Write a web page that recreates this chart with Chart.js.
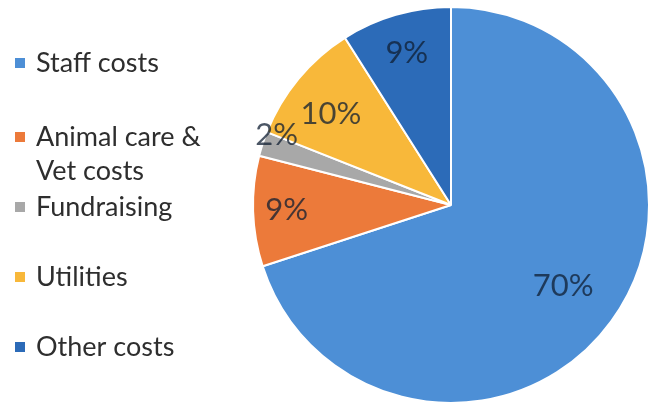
<!DOCTYPE html>
<html>
<head>
<meta charset="utf-8">
<script src="https://cdn.jsdelivr.net/npm/chart.js@4/dist/chart.umd.min.js"></script>
<style>
    html, body { margin: 0; padding: 0; background: #fff; }
    #wrap { position: relative; width: 652px; height: 406px; }
</style>
</head>
<body>
<div id="wrap"><canvas id="grafico"></canvas></div>
<script>
// Datos del gráfico
const categorias = ["Staff costs", ["Animal care &", "Vet costs"], "Fundraising", "Utilities", "Other costs"];
const porcentajes = [70, 9, 2, 10, 9];
const colores = ["#4d8fd6", "#ec7a3a", "#a8a8a8", "#f8b83a", "#2c6bb8"];

// Posición de las etiquetas (fracción del radio, desvío en grados) y filas de la leyenda
const radioEtiqueta = [0.70, 0.83, 0.95, 0.76, 0.80];
const desvioEtiqueta = [0, 0, 4, -2.5, 0];
const filasLeyenda = [63, 137, 207, 277, 347];

// Plugin: etiquetas de porcentaje sobre cada porción
const pluginEtiquetas = {
    id: "etiquetas",
    afterDatasetsDraw(chart) {
        const ctx = chart.ctx;
        const meta = chart.getDatasetMeta(0);
        ctx.save();
        ctx.font = "31px Lato";
        ctx.fillStyle = "rgba(15, 30, 50, 0.75)";
        ctx.textAlign = "center";
        ctx.textBaseline = "middle";
        meta.data.forEach((arc, i) => {
            const p = arc.getProps(["x", "y", "startAngle", "endAngle", "outerRadius"], true);
            const ang = (p.startAngle + p.endAngle) / 2 + desvioEtiqueta[i] * Math.PI / 180;
            const r = p.outerRadius * radioEtiqueta[i];
            ctx.fillText(porcentajes[i] + "%", p.x + Math.cos(ang) * r, p.y + Math.sin(ang) * r);
        });
        ctx.restore();
    }
};

// Plugin: leyenda a la izquierda (como en Excel)
const pluginLeyenda = {
    id: "leyenda",
    afterDraw(chart) {
        const ctx = chart.ctx;
        ctx.save();
        ctx.font = "27px Lato";
        ctx.textBaseline = "middle";
        chart.data.labels.forEach((label, i) => {
            const y = filasLeyenda[i];
            ctx.fillStyle = colores[i];
            ctx.fillRect(15, y - 5, 10, 10);
            ctx.fillStyle = "#2e2e2e";
            const lineas = Array.isArray(label) ? label : [label];
            lineas.forEach((linea, j) => ctx.fillText(linea, 36, y + j * 34));
        });
        ctx.restore();
    }
};

const ctx = document.getElementById("grafico").getContext("2d");
new Chart(ctx, {
    type: "pie",
    data: {
        labels: categorias,
        datasets: [
            {
                data: porcentajes,
                backgroundColor: colores,
                borderColor: "#ffffff",
                borderWidth: 2,
            },
        ],
    },
    options: {
        responsive: true,
        maintainAspectRatio: false,
        animation: false,
        layout: { padding: { left: 252, right: 2, top: 6, bottom: 2 } },
        plugins: {
            legend: { display: false },
            tooltip: { enabled: false },
        },
    },
    plugins: [pluginEtiquetas, pluginLeyenda],
});
</script>
</body>
</html>
